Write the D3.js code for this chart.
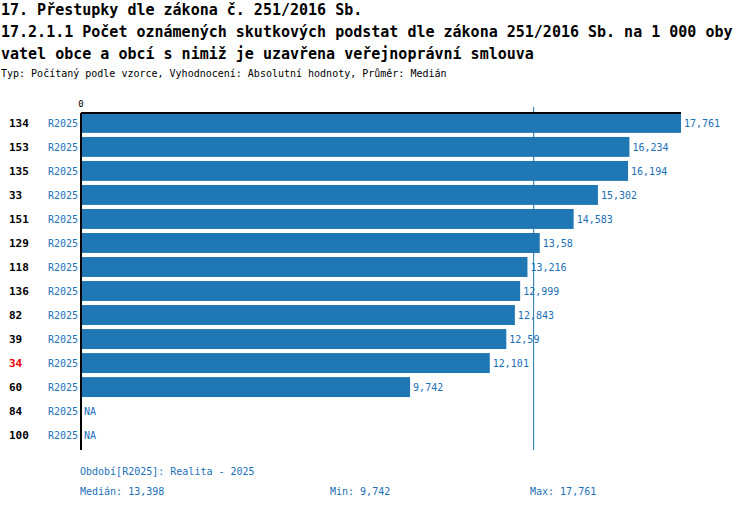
<!DOCTYPE html>
<html><head><meta charset="utf-8">
<script src="https://cdn.jsdelivr.net/npm/d3@7"></script>
<style>body{margin:0;background:#fff}text{font-family:"DejaVu Sans Mono",monospace}</style>
</head><body><svg id="c" width="750" height="510"></svg>
<script>
// data
const ids = ["134","153","135","33","151","129","118","136","82","39","34","60","84","100"];
const values = [17761,16234,16194,15302,14583,13580,13216,12999,12843,12590,12101,9742,null,null];
const labels = ["17,761","16,234","16,194","15,302","14,583","13,58","13,216","12,999","12,843","12,59","12,101","9,742","NA","NA"];
const highlight = "34";
const median = 13398, minV = 9742, maxV = 17761;

const blue = "#1f77b4", txt = "#1a70b8";
const svg = d3.select("#c");
const x = d3.scaleLinear().domain([0, maxV]).range([81, 681]);
const y = d3.scaleBand().domain(ids).range([111, 447]).paddingInner(0.17).paddingOuter(0.08);

svg.append("text").attr("x",1).attr("y",15).attr("font-size",15).attr("font-weight","bold").text("17. Přestupky dle zákona č. 251/2016 Sb.");
svg.append("text").attr("x",1).attr("y",37).attr("font-size",15).attr("font-weight","bold").text("17.2.1.1 Počet oznámených skutkových podstat dle zákona 251/2016 Sb. na 1 000 oby");
svg.append("text").attr("x",1).attr("y",59).attr("font-size",15).attr("font-weight","bold").text("vatel obce a obcí s nimiž je uzavřena veřejnoprávní smlouva");
svg.append("text").attr("x",1).attr("y",77).attr("font-size",10).text("Typ: Počítaný podle vzorce, Vyhodnocení: Absolutní hodnoty, Průměr: Medián");
svg.append("text").attr("x",x(0)).attr("y",107).attr("font-size",9).attr("text-anchor","middle").text("0");

svg.selectAll("rect.bar").data(ids.filter((d,i)=>values[i]!=null)).join("rect")
  .attr("x",x(0)).attr("y",d=>y(d)).attr("height",y.bandwidth())
  .attr("width",d=>x(values[ids.indexOf(d)])-x(0)).attr("fill",blue);

const row = svg.selectAll("g.row").data(ids).join("g").attr("transform",d=>`translate(0,${y(d)+y.bandwidth()/2+4})`);
row.append("text").attr("x",9).attr("font-size",11).attr("font-weight","bold")
  .attr("fill",d=>d===highlight?"#e00":"#000").text(d=>d);
row.append("text").attr("x",78).attr("text-anchor","end").attr("font-size",10).attr("fill",txt).text("R2025");
row.append("text").attr("x",(d,i)=>values[i]==null?x(0)+3:x(values[i])+3).attr("font-size",10).attr("fill",txt).text((d,i)=>labels[i]);

svg.append("line").attr("x1",x(median)).attr("x2",x(median)).attr("y1",107).attr("y2",450).attr("stroke",blue).attr("stroke-width",1);
svg.append("line").attr("x1",x(0)).attr("x2",x(maxV)).attr("y1",113).attr("y2",113).attr("stroke","#000").attr("stroke-width",2);
svg.append("line").attr("x1",x(0)).attr("x2",x(0)).attr("y1",113).attr("y2",450).attr("stroke","#000").attr("stroke-width",2);

const f = d3.format(",");
svg.append("text").attr("x",80).attr("y",475).attr("font-size",10).attr("fill",txt).text("Období[R2025]: Realita - 2025");
svg.append("text").attr("x",80).attr("y",495).attr("font-size",10).attr("fill",txt).text("Medián: "+f(median));
svg.append("text").attr("x",330).attr("y",495).attr("font-size",10).attr("fill",txt).text("Min: "+f(minV));
svg.append("text").attr("x",530).attr("y",495).attr("font-size",10).attr("fill",txt).text("Max: "+f(maxV));
</script></body></html>
